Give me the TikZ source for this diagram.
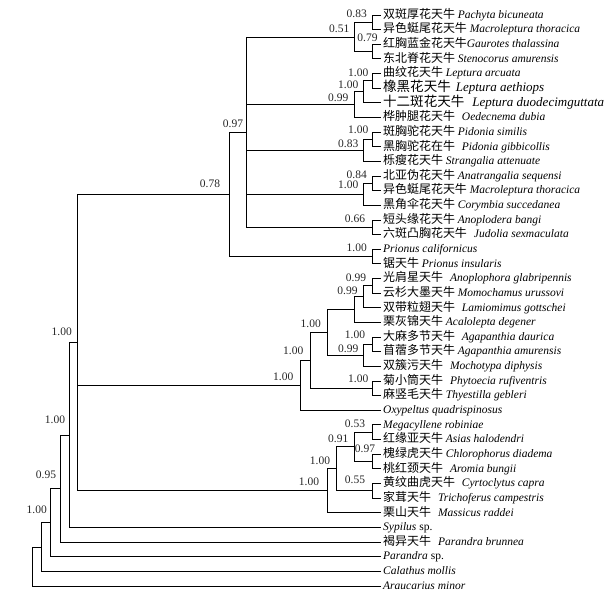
\documentclass[tikz,border=0pt]{standalone}
\usepackage{fontspec}
\setmainfont{Liberation Serif}
\newfontfamily\cjk[Scale=1.04]{Noto Sans CJK SC}
\newcommand{\leaffont}{\fontsize{11.5}{12}\selectfont}
\newcommand{\tx}[2]{{\cjk #1} \textit{#2}}
\newcommand{\txw}[2]{{\cjk #1}\hspace{7pt}\textit{#2}}
\newcommand{\txb}[3]{{\fontsize{13}{14}\selectfont{\cjk #1}\hspace{#3}\textit{#2}}}
\tikzset{
	branch/.style={line width=.9pt, line join=miter},
	leaf/.style={anchor=west, inner sep=2pt, text height=9pt, text depth=2.5pt},
	supp/.style={inner sep=0pt, text=black!85},
}
\begin{document}
\begin{tikzpicture}[x=1pt, y=-1pt]
			\useasboundingbox (0,0) rectangle (614,599);
			% leaves
			\foreach \txt [count = \i] in {
					{\tx{双斑厚花天牛}{Pachyta bicuneata}},
					{\tx{异色蜓尾花天牛}{Macroleptura thoracica}},
					{{\cjk 红胸蓝金花天牛}\textit{Gaurotes thalassina}},
					{\tx{东北脊花天牛}{Stenocorus amurensis}},
					{\tx{曲纹花天牛}{Leptura arcuata}},
					{\txb{橡黑花天牛}{Leptura aethiops}{5pt}},
					{\txb{十二斑花天牛}{Leptura duodecimguttata}{8pt}},
					{\txw{桦肿腿花天牛}{Oedecnema dubia}},
					{\tx{斑胸驼花天牛}{Pidonia similis}},
					{\txw{黑胸驼花在牛}{Pidonia gibbicollis}},
					{\tx{栎瘦花天牛}{Strangalia attenuate}},
					{\tx{北亚伪花天牛}{Anatrangalia sequensi}},
					{\tx{异色蜓尾花天牛}{Macroleptura thoracica}},
					{\tx{黑角伞花天牛}{Corymbia succedanea}},
					{\tx{短头缘花天牛}{Anoplodera bangi}},
					{\txw{六斑凸胸花天牛}{Judolia sexmaculata}},
					{\textit{Prionus californicus}},
					{\tx{锯天牛}{Prionus insularis}},
					{\txw{光肩星天牛}{Anoplophora glabripennis}},
					{\tx{云杉大墨天牛}{Momochamus urussovi}},
					{\txw{双带粒翅天牛}{Lamiomimus gottschei}},
					{\tx{栗灰锦天牛}{Acalolepta degener}},
					{\txw{大麻多节天牛}{Agapanthia daurica}},
					{\tx{苜蓿多节天牛}{Agapanthia amurensis}},
					{\txw{双簇污天牛}{Mochotypa diphysis}},
					{\txw{菊小筒天牛}{Phytoecia rufiventris}},
					{\tx{麻竖毛天牛}{Thyestilla gebleri}},
					{\textit{Oxypeltus quadrispinosus}},
					{\textit{Megacyllene robiniae}},
					{\tx{红缘亚天牛}{Asias halodendri}},
					{\tx{槐绿虎天牛}{Chlorophorus diadema}},
					{\txw{桃红颈天牛}{Aromia bungii}},
					{\txw{黄纹曲虎天牛}{Cyrtoclytus capra}},
					{\txw{家茸天牛}{Trichoferus campestris}},
					{\txw{栗山天牛}{Massicus raddei}},
					{\textit{Sypilus} sp.},
					{\txw{褐异天牛}{Parandra brunnea}},
					{\textit{Parandra} sp.},
					{\textit{Calathus mollis}},
					{\textit{Araucarius minor}}}
				{
					\pgfmathsetmacro\yy{15 + (\i - 1)*14.64}
					\node[leaf] (l\i) at (381,\yy) {\leaffont\txt};
				}
			% internal nodes
			\foreach \n/\x/\y in {n1_2/372.7/22.3, n3_4/372.7/51.6, n1_4/354.3/37,
					n5_6/372.7/80.9, n5_7/363.3/91.9, n5_8/354.3/104.7,
					n9_10/372.7/139.5, n9_11/363.3/150.4,
					n12_13/372.7/183.4, n12_14/363.3/194.3, n15_16/372.7/227.3,
					n1_16/246.7/132.2, n17_18/372.7/256.6, n1_18/229/194.4,
					n19_20/372.7/285.8, n19_21/363.3/296.8, n19_22/354.3/309.6,
					n23_24/372.7/344.4, n23_25/363.3/355.4, n19_25/327.3/332.5,
					n26_27/372.7/388.3, n19_27/310/360.4, n19_28/300.7/385.3,
					n29_30/372.7/432.2, n31_32/372.7/461.5, n29_32/354.3/446.9,
					n33_34/372.7/490.8, n29_34/336/468.9, n29_35/327.3/490.8,
					nA/77.3/342.6, nB/69/435, nC/60/488.5, nD/50.7/522.6,
					nE/41.7/547, nR/32.7/566.5}
				{
					\coordinate (\n) at (\x,\y);
				}
			% branches
			\foreach \p/\c in {n1_2/l1.west, n1_2/l2.west, n3_4/l3.west, n3_4/l4.west,
					n1_4/n1_2, n1_4/n3_4,
					n5_6/l5.west, n5_6/l6.west, n5_7/n5_6, n5_7/l7.west, n5_8/n5_7, n5_8/l8.west,
					n9_10/l9.west, n9_10/l10.west, n9_11/n9_10, n9_11/l11.west,
					n12_13/l12.west, n12_13/l13.west, n12_14/n12_13, n12_14/l14.west,
					n15_16/l15.west, n15_16/l16.west,
					n1_16/n1_4, n1_16/n5_8, n1_16/n9_11, n1_16/n12_14, n1_16/n15_16,
					n17_18/l17.west, n17_18/l18.west, n1_18/n1_16, n1_18/n17_18,
					n19_20/l19.west, n19_20/l20.west, n19_21/n19_20, n19_21/l21.west,
					n19_22/n19_21, n19_22/l22.west,
					n23_24/l23.west, n23_24/l24.west, n23_25/n23_24, n23_25/l25.west,
					n19_25/n19_22, n19_25/n23_25,
					n26_27/l26.west, n26_27/l27.west, n19_27/n19_25, n19_27/n26_27,
					n19_28/n19_27, n19_28/l28.west,
					n29_30/l29.west, n29_30/l30.west, n31_32/l31.west, n31_32/l32.west,
					n29_32/n29_30, n29_32/n31_32,
					n33_34/l33.west, n33_34/l34.west, n29_34/n29_32, n29_34/n33_34,
					n29_35/n29_34, n29_35/l35.west,
					nA/n1_18, nA/n19_28, nA/n29_35,
					nB/nA, nB/l36.west, nC/nB, nC/l37.west, nD/nC, nD/l38.west,
					nE/nD, nE/l39.west, nR/nE, nR/l40.west}
				{
					\draw[branch] (\p) |- (\c);
				}
			% support values
			\foreach \x/\y/\v [count = \k] in {356.7/13.3/0.83, 367.5/38/0.79, 339.3/28.3/0.51,
					358.3/72.7/1.00, 348.3/84.3/1.00, 338.3/97.3/0.99,
					358.3/130/1.00, 348.3/143.3/0.83,
					356.7/174.3/0.84, 348.3/185/1.00, 355/219/0.66,
					233/123.3/0.97, 356.7/247.3/1.00, 210/184/0.78,
					356/277.5/0.99, 347.5/290.5/0.99,
					355/335/1.00, 348.3/349/0.99, 310.7/324/1.00,
					358.3/379/1.00, 293.3/350.7/1.00, 283.3/376.7/1.00,
					355/424/0.53, 365/448.3/0.97, 338.3/438.3/0.91,
					355/479.3/0.55, 320/460.7/1.00, 309/481.7/1.00,
					61.7/331.7/1.00, 55/419.3/1.00, 46/474.3/0.95, 36.7/510/1.00}
				{
					\node[supp] (s\k) at (\x,\y) {\leaffont\v};
				}
\end{tikzpicture}
\end{document}
